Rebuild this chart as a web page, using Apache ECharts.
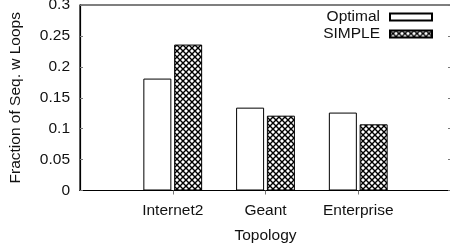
<!DOCTYPE html>
<html><head><meta charset="utf-8">
<script src="https://cdn.jsdelivr.net/npm/echarts@6/dist/echarts.min.js"></script>
<style>html,body{margin:0;padding:0;background:#fff}#c{width:450px;height:248px}</style>
</head><body><div id="c"></div>
<script>
const categories = ['', 'Internet2', 'Geant', 'Enterprise', ''];
const optimal = [null, 0.181, 0.134, 0.126, null];
const simple = [null, 0.236, 0.121, 0.107, null];
const yTicks = [0, 0.05, 0.1, 0.15, 0.2, 0.25, 0.3];

const pc = document.createElement('canvas');
pc.width = 6; pc.height = 6;
const g = pc.getContext('2d');
g.fillStyle = '#fff'; g.fillRect(0, 0, 6, 6);
g.strokeStyle = '#000'; g.lineWidth = 1.4;
g.beginPath();
g.moveTo(0, 0); g.lineTo(6, 6);
g.moveTo(6, 0); g.lineTo(0, 6);
g.stroke();

const FONT = 'Liberation Sans';
const FS = 15.5;
const chart = echarts.init(document.getElementById('c'), null, {renderer: 'canvas'});
chart.setOption({
  animation: false,
  textStyle: {fontFamily: FONT, color: '#111'},
  grid: {left: 80, top: 5, width: 371, height: 185.5, show: true, borderColor: '#000', borderWidth: 1.2,
    backgroundColor: 'transparent', containLabel: false, outerBoundsMode: 'none'},
  legend: {
    orient: 'vertical', right: 12, top: 4, align: 'right', itemGap: 1,
    itemWidth: 42, itemHeight: 7, icon: 'rect',
    textStyle: {fontFamily: FONT, fontSize: FS, color: '#111', padding: [0, 5, 0, 0]},
    data: ['Optimal', 'SIMPLE']
  },
  xAxis: {
    type: 'category', data: categories, boundaryGap: false,
    axisLine: {lineStyle: {color: '#000', width: 1.2}},
    axisTick: {show: true, inside: false, length: 4, interval: (i) => i >= 1 && i <= 3, lineStyle: {color: '#777'}},
    axisLabel: {fontFamily: FONT, fontSize: FS, color: '#111', margin: 12.5, interval: 0},
    name: 'Topology', nameLocation: 'middle', nameGap: 37,
    nameTextStyle: {fontFamily: FONT, fontSize: FS, color: '#111'},
    splitLine: {show: false}
  },
  yAxis: [{
    type: 'value', min: 0, max: 0.3, interval: 0.05,
    axisLine: {show: true, lineStyle: {color: '#000', width: 1.2}},
    axisTick: {show: true, inside: true, length: 3, lineStyle: {color: '#777'}},
    axisLabel: {fontFamily: FONT, fontSize: FS, color: '#111', margin: 10,
      formatter: (v) => { const t = yTicks.find(x => Math.abs(x - v) < 1e-9); return t === undefined ? '' : String(t); }},
    splitLine: {show: false},
    name: 'Fraction of Seq. w Loops', nameLocation: 'middle', nameGap: 56,
    nameTextStyle: {fontFamily: FONT, fontSize: FS, color: '#111'}
  }, {
    type: 'value', min: 0, max: 0.3, interval: 0.05, position: 'right',
    axisLine: {show: false},
    axisTick: {show: true, inside: true, length: 3, lineStyle: {color: '#777'}},
    axisLabel: {show: false}, splitLine: {show: false}
  }],
  series: [{
    name: 'Optimal', type: 'bar', data: optimal, barWidth: 28, barGap: '10%',
    itemStyle: {color: '#fff', borderColor: '#000', borderWidth: 1}
  }, {
    name: 'SIMPLE', type: 'bar', data: simple, barWidth: 28, barGap: '10%',
    itemStyle: {color: {image: pc, repeat: 'repeat'}, borderColor: '#000', borderWidth: 1}
  }]
});
</script></body></html>
